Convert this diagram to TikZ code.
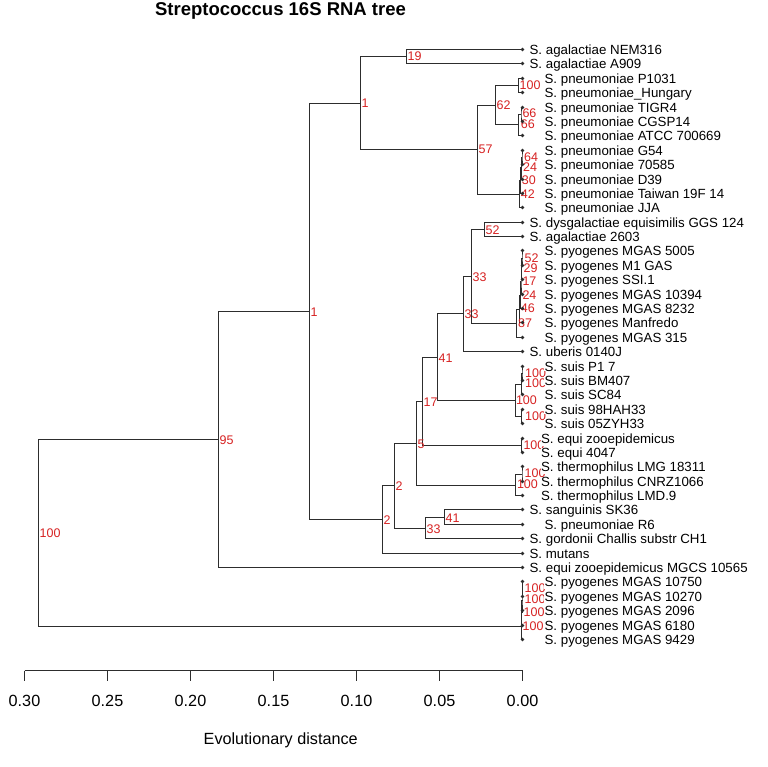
\documentclass[tikz,border=0pt]{standalone}
\usepackage{fontspec}
\setmainfont{Liberation Sans}
\usetikzlibrary{calc}
\definecolor{labred}{RGB}{215,35,35}
\definecolor{linegray}{RGB}{45,45,45}
\newcommand{\lfsize}{\fontsize{13.3}{15}\selectfont}
\newcommand{\nlsize}{\fontsize{12.5}{14}\selectfont}
\newcommand{\axsize}{\fontsize{16.2}{18}\selectfont}
\newcommand{\ttlsize}{\fontsize{18.5}{21}\selectfont\bfseries}
\newcommand{\mkleaf}[4]{%
  \coordinate (#1) at (522.5,{49.5+round(14.39*#2)});
  \fill[linegray] (#1) circle[radius=1.8pt];
  \node[leaflab] (#1t) at ({#3-1.1},{49.5+round(14.39*#2)+4.8}) {#4};
}
\tikzset{
  brline/.style={draw=linegray, line width=1pt},
  leaflab/.style={anchor=base west, inner xsep=0.5pt, inner ysep=0pt, fill=white, font=\lfsize, text=black},
  nlab/.style={anchor=base west, inner sep=0pt, font=\nlsize, text=labred},
  axlab/.style={anchor=base, inner sep=0pt, font=\axsize, text=black},
}
\begin{document}
\begin{tikzpicture}[x=1pt, y=-1pt]
\useasboundingbox[fill=white] (0,0) rectangle (767,767);

% internal nodes
\coordinate (root) at (38.5,532.5);
\coordinate (n95) at (218.5,439.5);
\coordinate (n1b) at (309.5,311.5);
\coordinate (n1a) at (360.5,103.5);
\coordinate (n19) at (406.5,56.5);
\coordinate (n57) at (477.5,149.5);
\coordinate (n62) at (495.5,105.5);
\coordinate (nP) at (518.5,85.5);
\coordinate (nT2) at (518.5,125);
\coordinate (nT1) at (521,114.5);
\coordinate (nG4) at (519.5,194.5);
\coordinate (nG3) at (520.5,181);
\coordinate (nG2) at (521.3,168);
\coordinate (nG1) at (522,157.5);
\coordinate (n2b) at (382.5,519.5);
\coordinate (n2a) at (394.5,485.5);
\coordinate (n5) at (416.5,443.5);
\coordinate (n17) at (422.5,401.5);
\coordinate (n41) at (437.5,357.5);
\coordinate (n33b) at (463.5,313.5);
\coordinate (n33a) at (471.5,276.5);
\coordinate (n52) at (484.5,229.5);
\coordinate (nY6) at (516.5,323);
\coordinate (nY5) at (519.3,309);
\coordinate (nY4) at (520.3,295);
\coordinate (nY3) at (521,281.5);
\coordinate (nY2) at (521.5,269);
\coordinate (nY1) at (522,258);
\coordinate (nS4) at (515.5,400.5);
\coordinate (nS2) at (521.5,384);
\coordinate (nS1) at (522,373.5);
\coordinate (nS3) at (521.5,416.5);
\coordinate (nE) at (521.5,445.5);
\coordinate (nTh2) at (515.5,485);
\coordinate (nTh1) at (522,474);
\coordinate (n33c) at (425.5,528.5);
\coordinate (n41b) at (444.5,517.5);
\coordinate (nM4) at (521.5,626);
\coordinate (nM3) at (521.8,612.5);
\coordinate (nM2) at (522,600);
\coordinate (nM1) at (522.2,589.5);

% leaf coordinates
\foreach \i in {0,...,41} {\coordinate (L\i) at (522.5,{49.5+round(14.39*\i)});}

% branches: one path per internal node (upper child, node, lower child)
\foreach \p/\a/\b in {root/n95/nM4, n95/n1b/L36, n1b/n1a/n2b,
  n1a/n19/n57, n19/L0/L1, n57/n62/nG4, n62/nP/nT2,
  nP/L2/L3, nT2/nT1/L6, nT1/L4/L5, nG4/nG3/L11,
  nG3/nG2/L10, nG2/nG1/L9, nG1/L7/L8, n2b/n2a/L35,
  n2a/n5/n33c, n5/n17/nTh2, n17/n41/nE, n41/n33b/nS4,
  n33b/n33a/L21, n33a/n52/nY6, n52/L12/L13,
  nY6/nY5/L20, nY5/nY4/L19, nY4/nY3/L18, nY3/nY2/L17,
  nY2/nY1/L16, nY1/L14/L15, nS4/nS2/nS3, nS2/nS1/L24,
  nS1/L22/L23, nS3/L25/L26, nE/L27/L28, nTh2/nTh1/L31,
  nTh1/L29/L30, n33c/n41b/L34, n41b/L32/L33,
  nM4/nM3/L41, nM3/nM2/L40, nM2/nM1/L39, nM1/L37/L38}
  {\draw[brline] (\a) -| (\p) |- (\b);}

% node labels (main)
\node[nlab] (b_root) at ([shift={(1,4.5)}]root) {100};
\node[nlab] (b_n95) at ([shift={(1,4.5)}]n95) {95};
\node[nlab] (b_n1b) at ([shift={(1,4.5)}]n1b) {1};
\node[nlab] (b_n1a) at ([shift={(1,4.5)}]n1a) {1};
\node[nlab] (b_n19) at ([shift={(1,4.5)}]n19) {19};
\node[nlab] (b_n57) at ([shift={(1,4.5)}]n57) {57};
\node[nlab] (b_n62) at ([shift={(1,4.5)}]n62) {62};
\node[nlab] (b_n52) at ([shift={(1,4.5)}]n52) {52};
\node[nlab] (b_n33a) at ([shift={(1,4.5)}]n33a) {33};
\node[nlab] (b_n33b) at ([shift={(1,4.5)}]n33b) {33};
\node[nlab] (b_n41) at ([shift={(1,4.5)}]n41) {41};
\node[nlab] (b_n17) at ([shift={(1,4.5)}]n17) {17};
\node[nlab] (b_n5) at ([shift={(1,4.5)}]n5) {5};
\node[nlab] (b_n2a) at ([shift={(1,4.5)}]n2a) {2};
\node[nlab] (b_n2b) at ([shift={(1,4.5)}]n2b) {2};
\node[nlab] (b_n33c) at ([shift={(1,4.5)}]n33c) {33};
\node[nlab] (b_n41b) at ([shift={(1,4.5)}]n41b) {41};

% node labels near tips
\node[nlab] (b_nP) at (519.5,{85.5+4.5}) {100};
\node[nlab] (b_nT1) at (522.3,{113.5+4.5}) {66};
\node[nlab] (b_nT2) at (520.7,{124.5+4.5}) {66};
\node[nlab] (b_nG1) at (524,{157+4.5}) {64};
\node[nlab] (b_nG2) at (523,{167.5+4.5}) {24};
\node[nlab] (b_nG3) at (521.7,{180+4.5}) {30};
\node[nlab] (b_nG4) at (520.7,{193.8+4.5}) {42};
\node[nlab] (b_nY1) at (524.5,{257.5+4.5}) {52};
\node[nlab] (b_nY2) at (523.5,{268+4.5}) {29};
\node[nlab] (b_nY3) at (522.3,{280.5+4.5}) {17};
\node[nlab] (b_nY4) at (522.3,{294.5+4.5}) {24};
\node[nlab] (b_nY5) at (520.7,{308+4.5}) {46};
\node[nlab] (b_nY6) at (518,{322.8+4.5}) {87};
\node[nlab] (b_nS1) at (525,{372.8+4.5}) {100};
\node[nlab] (b_nS2) at (525,{383.3+4.5}) {100};
\node[nlab] (b_nS4) at (515.8,{399.6+4.5}) {100};
\node[nlab] (b_nS3) at (525,{415.5+4.5}) {100};
\node[nlab] (b_nE) at (523.3,{444.5+4.5}) {100};
\node[nlab] (b_nTh1) at (524.5,{473+4.5}) {100};
\node[nlab] (b_nTh2) at (516.8,{484+4.5}) {100};
\node[nlab] (b_nM1) at (524.5,{588+4.5}) {100};
\node[nlab] (b_nM2) at (524.5,{598.5+4.5}) {100};
\node[nlab] (b_nM3) at (523.5,{611.5+4.5}) {100};
\node[nlab] (b_nM4) at (522.5,{625.5+4.5}) {100};

% leaves: dots and labels
\mkleaf{T0}{0}{530}{S. agalactiae NEM316}
\mkleaf{T1}{1}{530}{S. agalactiae A909}
\mkleaf{T2}{2}{545}{S. pneumoniae P1031}
\mkleaf{T3}{3}{545}{S. pneumoniae\_Hungary}
\mkleaf{T4}{4}{545}{S. pneumoniae TIGR4}
\mkleaf{T5}{5}{545}{S. pneumoniae CGSP14}
\mkleaf{T6}{6}{545}{S. pneumoniae ATCC 700669}
\mkleaf{T7}{7}{545}{S. pneumoniae G54}
\mkleaf{T8}{8}{545}{S. pneumoniae 70585}
\mkleaf{T9}{9}{545}{S. pneumoniae D39}
\mkleaf{T10}{10}{545}{S. pneumoniae Taiwan 19F 14}
\mkleaf{T11}{11}{545}{S. pneumoniae JJA}
\mkleaf{T12}{12}{530}{S. dysgalactiae equisimilis GGS 124}
\mkleaf{T13}{13}{530}{S. agalactiae 2603}
\mkleaf{T14}{14}{545}{S. pyogenes MGAS 5005}
\mkleaf{T15}{15}{545}{S. pyogenes M1 GAS}
\mkleaf{T16}{16}{545}{S. pyogenes SSI.1}
\mkleaf{T17}{17}{545}{S. pyogenes MGAS 10394}
\mkleaf{T18}{18}{545}{S. pyogenes MGAS 8232}
\mkleaf{T19}{19}{545}{S. pyogenes Manfredo}
\mkleaf{T20}{20}{545}{S. pyogenes MGAS 315}
\mkleaf{T21}{21}{530}{S. uberis 0140J}
\mkleaf{T22}{22}{545}{S. suis P1 7}
\mkleaf{T23}{23}{545}{S. suis BM407}
\mkleaf{T24}{24}{545}{S. suis SC84}
\mkleaf{T25}{25}{545}{S. suis 98HAH33}
\mkleaf{T26}{26}{545}{S. suis 05ZYH33}
\mkleaf{T27}{27}{541.5}{S. equi zooepidemicus}
\mkleaf{T28}{28}{541.5}{S. equi 4047}
\mkleaf{T29}{29}{541.5}{S. thermophilus LMG 18311}
\mkleaf{T30}{30}{541.5}{S. thermophilus CNRZ1066}
\mkleaf{T31}{31}{541.5}{S. thermophilus LMD.9}
\mkleaf{T32}{32}{530}{S. sanguinis SK36}
\mkleaf{T33}{33}{545}{S. pneumoniae R6}
\mkleaf{T34}{34}{530}{S. gordonii Challis substr CH1}
\mkleaf{T35}{35}{530}{S. mutans}
\mkleaf{T36}{36}{530}{S. equi zooepidemicus MGCS 10565}
\mkleaf{T37}{37}{545}{S. pyogenes MGAS 10750}
\mkleaf{T38}{38}{545}{S. pyogenes MGAS 10270}
\mkleaf{T39}{39}{545}{S. pyogenes MGAS 2096}
\mkleaf{T40}{40}{545}{S. pyogenes MGAS 6180}
\mkleaf{T41}{41}{545}{S. pyogenes MGAS 9429}

% axis
\coordinate (axL) at (24.5,670.5);
\coordinate (axR) at (522.5,670.5);
\draw[brline] (axL) -- (axR);
\foreach \i/\lab in {0/0.30,1/0.25,2/0.20,3/0.15,4/0.10,5/0.05,6/0.00} {
  \coordinate (tk\i) at ({24.5+83*\i},670.5);
  \draw[brline] (tk\i) -- ++(0,10);
  \node[axlab] (tl\i) at ({24.5+83*\i},706.7) {\lab};
}
\node[axlab] (xlab) at (280.7,744) {Evolutionary distance};

% title
\node[anchor=base, inner sep=0pt, font=\ttlsize] (title) at (280.5,15.5) {Streptococcus 16S RNA tree};
\end{tikzpicture}
\end{document}
